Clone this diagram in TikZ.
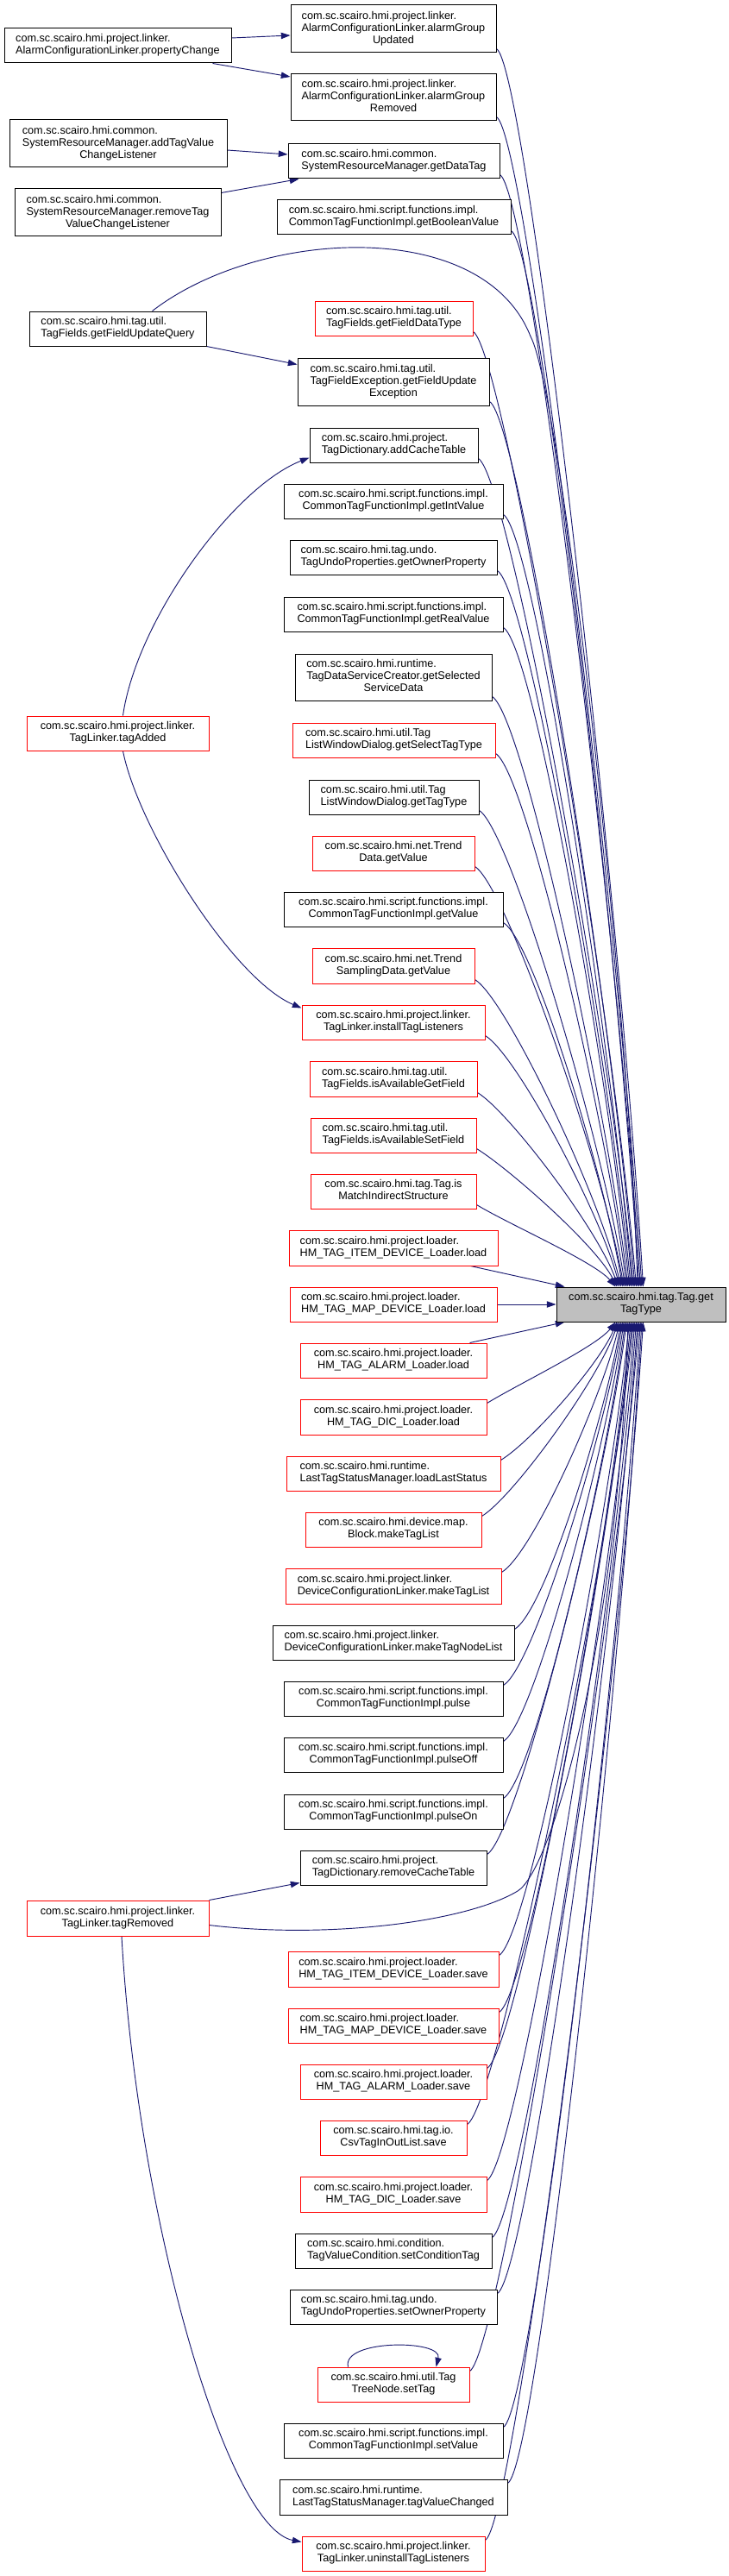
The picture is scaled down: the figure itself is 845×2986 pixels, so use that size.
\documentclass[tikz,border=0pt]{standalone}
\usepackage{fontspec}
\setmainfont{Liberation Sans}
\usetikzlibrary{arrows.meta,calc,backgrounds}
\definecolor{edgec}{HTML}{191970}
\definecolor{rootfill}{HTML}{BFBFBF}
\newcommand\lb[2]{\begin{tabular}{@{}l@{}}#1\\\multicolumn{1}{@{}c@{}}{#2}\end{tabular}}
\newcommand\lc[3]{\begin{tabular}{@{}l@{}}#1\\#2\\\multicolumn{1}{@{}c@{}}{#3}\end{tabular}}
\newcommand\nd[7]{\node[#6, minimum width={0.75pt*(#4-#2)}, minimum height={0.75pt*(#5-#3)}] (#1) at ({(#2+#4)/2},{(#3+#5)/2}) {#7};}
% edge from node above root to root top: node, right x, start y, end x
\newcommand\eu[4]{\draw[cnx] ($(#1.south east)+(0,-5)$) .. controls +(36,22) and +({-0.15*(#4-#2)},{-0.3*(1492-#3)}) .. ($(root.north west)+(#4-645,0)$);}
% edge from node below root to root bottom
\newcommand\ed[4]{\draw[cnx] ($(#1.north east)+(0,5)$) .. controls +(36,-22) and +({-0.15*(#4-#2)},{0.3*(#3-1532)}) .. ($(root.south west)+(#4-645,0)$);}
\begin{document}
\begin{tikzpicture}[x=0.75pt, y=-0.75pt,
  box/.style={draw=black, fill=white, line width=0.75pt, inner sep=0pt, font=\fontsize{9.5}{10.5}\selectfont},
  bk/.style={box},
  rd/.style={box, draw=red},
  rt/.style={box, fill=rootfill},
  cnx/.style={draw=edgec, line width=0.7pt, -{Triangle[length=8pt,width=5.5pt]}}]
\begin{pgfonlayer}{background}
\fill[white] (0,0) rectangle (845,2986);
\end{pgfonlayer}
\useasboundingbox (0,0) rectangle (845,2986);

\nd{n1}{5}{33}{268}{73}{bk}{\lb{com.sc.scairo.hmi.project.linker.}{AlarmConfigurationLinker.propertyChange}}
\nd{n2}{337}{6}{575}{61}{bk}{\lc{com.sc.scairo.hmi.project.linker.}{AlarmConfigurationLinker.alarmGroup}{Updated}}
\nd{n3}{337}{86}{575}{140}{bk}{\lc{com.sc.scairo.hmi.project.linker.}{AlarmConfigurationLinker.alarmGroup}{Removed}}
\nd{n4}{11}{139}{263}{194}{bk}{\lc{com.sc.scairo.hmi.common.}{SystemResourceManager.addTagValue}{ChangeListener}}
\nd{n5}{334}{167}{579}{207}{bk}{\lb{com.sc.scairo.hmi.common.}{SystemResourceManager.getDataTag}}
\nd{n6}{17}{219}{256}{274}{bk}{\lc{com.sc.scairo.hmi.common.}{SystemResourceManager.removeTag}{ValueChangeListener}}
\nd{n7}{321}{232}{592}{272}{bk}{\lb{com.sc.scairo.hmi.script.functions.impl.}{CommonTagFunctionImpl.getBooleanValue}}
\nd{n8}{34}{361}{239}{401}{bk}{\lb{com.sc.scairo.hmi.tag.util.}{TagFields.getFieldUpdateQuery}}
\nd{n9}{365}{349}{548}{389}{rd}{\lb{com.sc.scairo.hmi.tag.util.}{TagFields.getFieldDataType}}
\nd{n10}{345}{415}{567}{470}{bk}{\lc{com.sc.scairo.hmi.tag.util.}{TagFieldException.getFieldUpdate}{Exception}}
\nd{n11}{359}{496}{554}{536}{bk}{\lb{com.sc.scairo.hmi.project.}{TagDictionary.addCacheTable}}
\nd{n12}{329}{561}{583}{601}{bk}{\lb{com.sc.scairo.hmi.script.functions.impl.}{CommonTagFunctionImpl.getIntValue}}
\nd{n13}{336}{626}{576}{666}{bk}{\lb{com.sc.scairo.hmi.tag.undo.}{TagUndoProperties.getOwnerProperty}}
\nd{n14}{329}{692}{583}{732}{bk}{\lb{com.sc.scairo.hmi.script.functions.impl.}{CommonTagFunctionImpl.getRealValue}}
\nd{n15}{342}{758}{570}{812}{bk}{\lc{com.sc.scairo.hmi.runtime.}{TagDataServiceCreator.getSelected}{ServiceData}}
\nd{n16}{31}{830}{242}{870}{rd}{\lb{com.sc.scairo.hmi.project.linker.}{TagLinker.tagAdded}}
\nd{n17}{339}{838}{574}{878}{rd}{\lb{com.sc.scairo.hmi.util.Tag}{ListWindowDialog.getSelectTagType}}
\nd{n18}{358}{904}{555}{944}{bk}{\lb{com.sc.scairo.hmi.util.Tag}{ListWindowDialog.getTagType}}
\nd{n19}{362}{969}{550}{1009}{rd}{\lb{com.sc.scairo.hmi.net.Trend}{Data.getValue}}
\nd{n20}{329}{1034}{583}{1074}{bk}{\lb{com.sc.scairo.hmi.script.functions.impl.}{CommonTagFunctionImpl.getValue}}
\nd{n21}{362}{1099}{550}{1140}{rd}{\lb{com.sc.scairo.hmi.net.Trend}{SamplingData.getValue}}
\nd{n22}{350}{1165}{562}{1205}{rd}{\lb{com.sc.scairo.hmi.project.linker.}{TagLinker.installTagListeners}}
\nd{n23}{359}{1230}{553}{1271}{rd}{\lb{com.sc.scairo.hmi.tag.util.}{TagFields.isAvailableGetField}}
\nd{n24}{360}{1296}{552}{1336}{rd}{\lb{com.sc.scairo.hmi.tag.util.}{TagFields.isAvailableSetField}}
\nd{n25}{360}{1361}{552}{1401}{rd}{\lb{com.sc.scairo.hmi.tag.Tag.is}{MatchIndirectStructure}}
\nd{n26}{335}{1426}{577}{1467}{rd}{\lb{com.sc.scairo.hmi.project.loader.}{HM\_TAG\_ITEM\_DEVICE\_Loader.load}}
\nd{n27}{336}{1492}{576}{1532}{rd}{\lb{com.sc.scairo.hmi.project.loader.}{HM\_TAG\_MAP\_DEVICE\_Loader.load}}
\nd{root}{645}{1492}{841}{1532}{rt}{\lb{com.sc.scairo.hmi.tag.Tag.get}{TagType}}
\nd{n28}{348}{1557}{564}{1597}{rd}{\lb{com.sc.scairo.hmi.project.loader.}{HM\_TAG\_ALARM\_Loader.load}}
\nd{n29}{348}{1622}{564}{1663}{rd}{\lb{com.sc.scairo.hmi.project.loader.}{HM\_TAG\_DIC\_Loader.load}}
\nd{n30}{332}{1688}{580}{1728}{rd}{\lb{com.sc.scairo.hmi.runtime.}{LastTagStatusManager.loadLastStatus}}
\nd{n31}{354}{1753}{558}{1793}{rd}{\lb{com.sc.scairo.hmi.device.map.}{Block.makeTagList}}
\nd{n32}{331}{1818}{581}{1859}{rd}{\lb{com.sc.scairo.hmi.project.linker.}{DeviceConfigurationLinker.makeTagList}}
\nd{n33}{316}{1884}{596}{1924}{bk}{\lb{com.sc.scairo.hmi.project.linker.}{DeviceConfigurationLinker.makeTagNodeList}}
\nd{n34}{329}{1949}{583}{1989}{bk}{\lb{com.sc.scairo.hmi.script.functions.impl.}{CommonTagFunctionImpl.pulse}}
\nd{n35}{329}{2014}{583}{2054}{bk}{\lb{com.sc.scairo.hmi.script.functions.impl.}{CommonTagFunctionImpl.pulseOff}}
\nd{n36}{329}{2080}{583}{2120}{bk}{\lb{com.sc.scairo.hmi.script.functions.impl.}{CommonTagFunctionImpl.pulseOn}}
\nd{n37}{348}{2145}{564}{2185}{bk}{\lb{com.sc.scairo.hmi.project.}{TagDictionary.removeCacheTable}}
\nd{n38}{31}{2203}{242}{2244}{rd}{\lb{com.sc.scairo.hmi.project.linker.}{TagLinker.tagRemoved}}
\nd{n39}{334}{2262}{578}{2303}{rd}{\lb{com.sc.scairo.hmi.project.loader.}{HM\_TAG\_ITEM\_DEVICE\_Loader.save}}
\nd{n40}{334}{2328}{578}{2368}{rd}{\lb{com.sc.scairo.hmi.project.loader.}{HM\_TAG\_MAP\_DEVICE\_Loader.save}}
\nd{n41}{348}{2393}{564}{2433}{rd}{\lb{com.sc.scairo.hmi.project.loader.}{HM\_TAG\_ALARM\_Loader.save}}
\nd{n42}{371}{2458}{541}{2498}{rd}{\lb{com.sc.scairo.hmi.tag.io.}{CsvTagInOutList.save}}
\nd{n43}{348}{2523}{564}{2564}{rd}{\lb{com.sc.scairo.hmi.project.loader.}{HM\_TAG\_DIC\_Loader.save}}
\nd{n44}{342}{2589}{570}{2629}{bk}{\lb{com.sc.scairo.hmi.condition.}{TagValueCondition.setConditionTag}}
\nd{n45}{336}{2654}{576}{2694}{bk}{\lb{com.sc.scairo.hmi.tag.undo.}{TagUndoProperties.setOwnerProperty}}
\nd{n46}{368}{2744}{544}{2784}{rd}{\lb{com.sc.scairo.hmi.util.Tag}{TreeNode.setTag}}
\nd{n47}{329}{2809}{583}{2849}{bk}{\lb{com.sc.scairo.hmi.script.functions.impl.}{CommonTagFunctionImpl.setValue}}
\nd{n48}{324}{2874}{588}{2915}{bk}{\lb{com.sc.scairo.hmi.runtime.}{LastTagStatusManager.tagValueChanged}}
\nd{n49}{350}{2940}{562}{2980}{rd}{\lb{com.sc.scairo.hmi.project.linker.}{TagLinker.uninstallTagListeners}}

\begin{pgfonlayer}{background}
% straight edges
\draw[cnx] ($(n1.east)+(0,-9)$) -- ($(n2.west)+(0,7.5)$);
\draw[cnx] ($(n1.south east)+(-22,0)$) -- ($(n3.west)+(0,-24)$);
\draw[cnx] ($(n4.east)+(0,7.5)$) -- ($(n5.west)+(0,-8)$);
\draw[cnx] ($(n6.north east)+(0,5)$) -- ($(n5.south west)+(13,0)$);
\draw[cnx] (n8.south east) -- ($(n10.west)+(0,-20)$);
\draw[cnx] (n38.north east) -- ($(n37.south west)+(0,-3)$);
\draw[cnx] ($(n26.south east)+(-32,0)$) -- ($(root.north west)+(10,0)$);
\draw[cnx] (n27.east) -- (root.west);
\draw[cnx] ($(n28.north east)+(-20,0)$) -- ($(root.south west)+(10,0)$);
% curved edges on the left
\draw[cnx] ($(n16.north)+(6,0)$) .. controls (158,720) and (270,565) .. ($(n11.south west)+(0,-6)$);
\draw[cnx] ($(n16.south)+(6,0)$) .. controls (160,960) and (270,1135) .. ($(n22.north west)+(0,4)$);
\draw[cnx] ($(n38.south)+(4.5,0)$) .. controls (160,2580) and (265,2930) .. ($(n49.north west)+(0,7)$);
\draw[cnx] ($(n46.north west)+(36,0)$) .. controls +(-8,-32) and +(8,-32) .. ($(n46.north west)+(138,0)$);
\draw[cnx] ($(n8.north)+(40,0)$) .. controls (300,265) and (560,250) .. (615,390) .. controls (650,455) and (728,1150) .. ($(root.north west)+(94.6,0)$);
\draw[cnx] ($(n38.east)+(0,8)$) .. controls (380,2248) and (540,2228) .. (600,2192) .. controls (640,2168) and (716,1900) .. ($(root.south west)+(83.4,0)$);
% edges into root top
\eu{n2}{575}{56}{746}
\eu{n3}{575}{135}{744.4}
\eu{n5}{579}{202}{742.8}
\eu{n7}{592}{267}{741.2}
\eu{n9}{548}{384}{738}
\eu{n10}{567}{465}{736.4}
\eu{n11}{554}{531}{734.8}
\eu{n12}{583}{596}{733.2}
\eu{n13}{576}{661}{731.6}
\eu{n14}{583}{727}{730}
\eu{n15}{570}{807}{728.4}
\eu{n17}{574}{873}{726.8}
\eu{n18}{555}{939}{725.2}
\eu{n19}{550}{1004}{723.6}
\eu{n20}{583}{1069}{722}
\eu{n21}{550}{1135}{720.4}
\eu{n22}{562}{1200}{718.8}
\eu{n23}{553}{1266}{717.2}
\eu{n24}{552}{1331}{715.6}
\eu{n25}{552}{1396}{714}
% edges into root bottom
\ed{n29}{564}{1627}{714}
\ed{n30}{580}{1693}{715.6}
\ed{n31}{558}{1758}{717.2}
\ed{n32}{581}{1823}{718.8}
\ed{n33}{596}{1889}{720.4}
\ed{n34}{583}{1954}{722}
\ed{n35}{583}{2019}{723.6}
\ed{n36}{583}{2085}{725.2}
\ed{n37}{564}{2150}{726.8}
\ed{n39}{578}{2267}{730}
\ed{n40}{578}{2333}{731.6}
\ed{n41}{564}{2398}{733.2}
\ed{n42}{541}{2463}{734.8}
\ed{n43}{564}{2528}{736.4}
\ed{n44}{570}{2594}{738}
\ed{n45}{576}{2659}{739.6}
\ed{n46}{544}{2749}{741.2}
\ed{n47}{583}{2814}{742.8}
\ed{n48}{588}{2879}{744.4}
\ed{n49}{562}{2945}{746}
\end{pgfonlayer}
\end{tikzpicture}
\end{document}
